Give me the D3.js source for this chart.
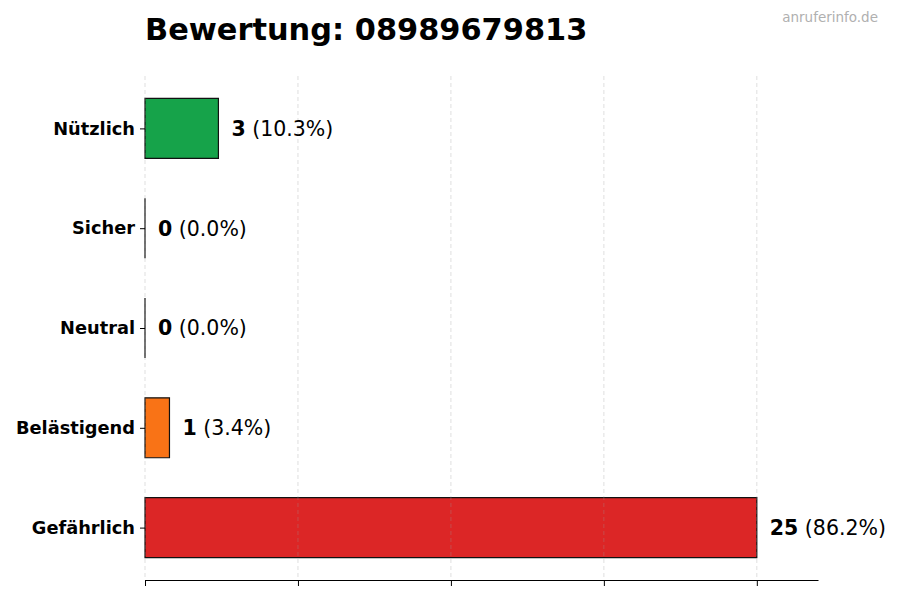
<!DOCTYPE html>
<html>
<head>
<meta charset="utf-8">
<script src="https://cdn.jsdelivr.net/npm/d3@7"></script>
<style>
  body { margin: 0; background: #fff; }
  text { font-family: "DejaVu Sans", sans-serif; }
</style>
</head>
<body>
<div id="chart"></div>
<script>
// data
const categories = ["Nützlich", "Sicher", "Neutral", "Belästigend", "Gefährlich"];
const counts = [3, 0, 0, 1, 25];
const percents = ["10.3%", "0.0%", "0.0%", "3.4%", "86.2%"];
const colors = ["#16a34a", "#9ca3af", "#6b7280", "#f97316", "#dc2626"];
const titleText = "Bewertung: 08989679813";
const sourceText = "anruferinfo.de";

// set the dimensions and margins of the graph
const margin = { top: 76, right: 82, bottom: 20, left: 145 },
  width = 900 - margin.left - margin.right,
  height = 600 - margin.top - margin.bottom;

const svg = d3.select("#chart")
  .append("svg")
  .attr("width", 900)
  .attr("height", 600);

const g = svg.append("g")
  .attr("transform", `translate(${margin.left},${margin.top})`);

const maxVal = d3.max(counts);
const x = d3.scaleLinear()
  .domain([0, maxVal * 1.1])
  .range([0, width]);

const y = d3.scaleLinear()
  .domain([-0.525, categories.length - 0.475])
  .range([0, height]);

const barH = y(0.6) - y(0);
const ticks = d3.range(5).map(i => maxVal * i / 4);

// bars as paths so zero-width bars still show their edge
g.append("g")
  .selectAll("path")
  .data(counts)
  .join("path")
  .attr("d", (d, i) => {
    const y0 = y(i) - barH / 2, y1 = y(i) + barH / 2;
    return `M${x(0)},${y0}H${x(d)}V${y1}H${x(0)}Z`;
  })
  .attr("fill", (d, i) => colors[i])
  .attr("stroke", "#111")
  .attr("stroke-width", 1.2);

// grid lines at quarter steps, drawn over the bars (faint)
g.append("g")
  .selectAll("line")
  .data(ticks)
  .join("line")
  .attr("x1", d => x(d))
  .attr("x2", d => x(d))
  .attr("y1", 0)
  .attr("y2", height)
  .attr("stroke", "#999")
  .attr("stroke-opacity", 0.4)
  .attr("stroke-width", 0.8)
  .attr("stroke-dasharray", "4,3");

// value labels
const labels = g.append("g")
  .selectAll("text")
  .data(counts)
  .join("text")
  .attr("x", d => x(d) + 13)
  .attr("y", (d, i) => y(i))
  .attr("dy", "0.36em")
  .attr("font-size", 20.5)
  .attr("fill", "#000");
labels.append("tspan")
  .attr("font-weight", "bold")
  .text(d => d);
labels.append("tspan")
  .text((d, i) => ` (${percents[i]})`);

// y axis (no spine)
const yAxis = g.append("g")
  .call(d3.axisLeft(y).tickValues(d3.range(categories.length))
    .tickFormat(i => categories[i]).tickSize(5).tickPadding(5));
yAxis.select(".domain").remove();
yAxis.selectAll("text")
  .attr("font-size", 17.8)
  .attr("font-weight", "bold")
  .attr("fill", "#000")
  .style("font-family", "DejaVu Sans, sans-serif");
yAxis.selectAll("line").attr("stroke", "#000");

// x axis without labels
const xAxis = g.append("g")
  .attr("transform", `translate(0,${height})`)
  .call(d3.axisBottom(x).tickValues(ticks).tickFormat("").tickSize(6).tickSizeOuter(0));
xAxis.select(".domain").attr("stroke", "#000").attr("stroke-width", 1.1);
xAxis.selectAll("line").attr("stroke", "#000");

// title
svg.append("text")
  .attr("x", margin.left)
  .attr("y", 40)
  .attr("font-size", 30.4)
  .attr("font-weight", "bold")
  .attr("fill", "#000")
  .text(titleText);

// source watermark
svg.append("text")
  .attr("x", 878)
  .attr("y", 22)
  .attr("text-anchor", "end")
  .attr("font-size", 13.5)
  .attr("fill", "#b0b0b0")
  .text(sourceText);
</script>
</body>
</html>
